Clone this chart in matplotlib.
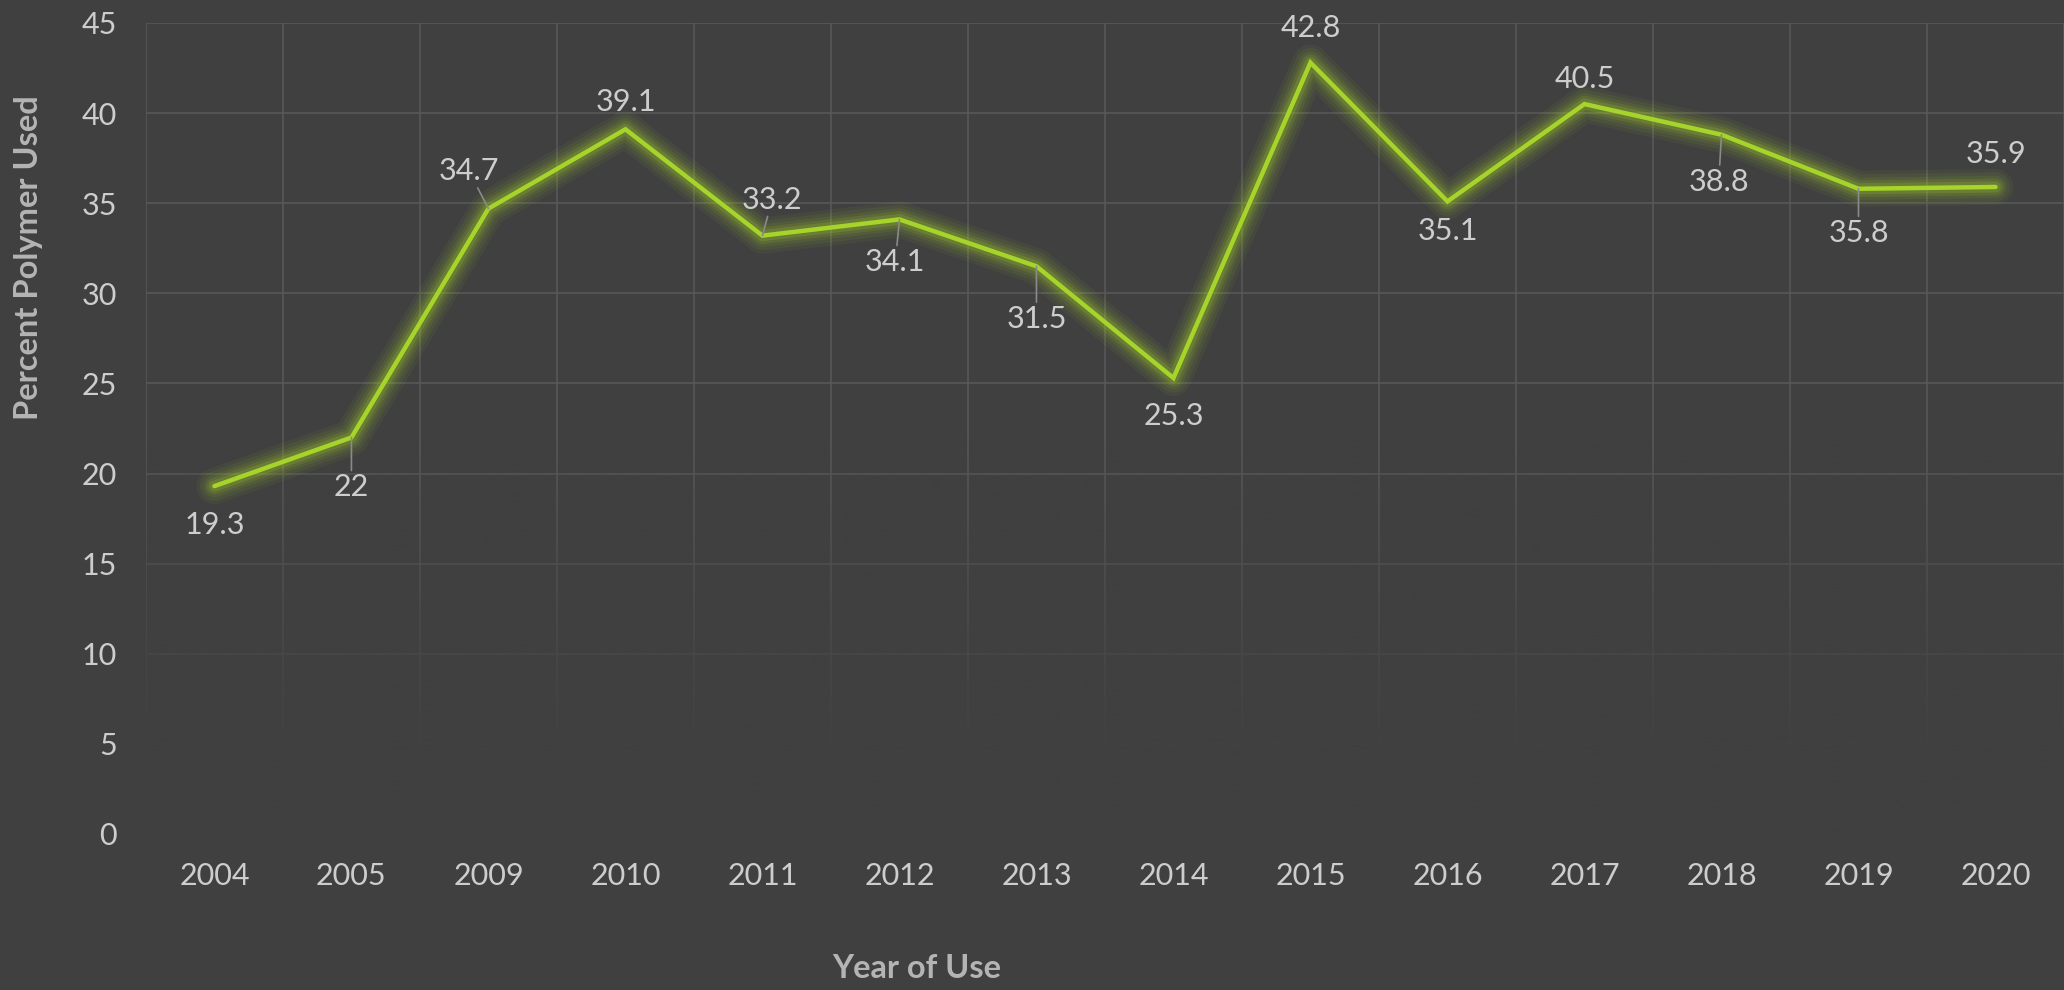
import numpy as np
import matplotlib
matplotlib.use("Agg")
from matplotlib import pyplot as plt
from matplotlib.colors import to_rgb

# data
years = ["2004", "2005", "2009", "2010", "2011", "2012", "2013",
         "2014", "2015", "2016", "2017", "2018", "2019", "2020"]
percent = [19.3, 22, 34.7, 39.1, 33.2, 34.1, 31.5,
           25.3, 42.8, 35.1, 40.5, 38.8, 35.8, 35.9]

# label placement (points from the marker) and whether a leader line is drawn
label_offsets = [(0, -28), (0, -36), (-14, 27), (0, 20), (7, 26), (-3, -31), (0, -38),
                 (0, -27), (0, 25), (0, -21), (0, 18), (-2, -34), (0, -32), (0, 24)]
leaders = [False, True, True, False, True, True, True,
           False, False, False, False, True, True, False]

bg = "#404040"
grid_col = "#595959"
line_col = "#a6d42a"
text_col = "#cdcdcd"
label_col = "#b4b4b4"

plt.rcParams["font.family"] = ["Lato", "DejaVu Sans"]

fig = plt.figure(figsize=(20.64, 9.9), dpi=100, facecolor=bg)
ax = fig.add_axes([0.0707, 0.1576, 0.9293, 0.8192], facecolor=bg)

x = np.arange(len(years))
ax.set_xlim(-0.5, len(years) - 0.5)
ax.set_ylim(0, 45)

ax.set_yticks(np.arange(0, 46, 5))
ax.set_xticks(x)
ax.set_xticklabels(years)
ax.set_xticks(np.arange(-0.5, len(years), 1), minor=True)
ax.grid(axis="y", which="major", color=grid_col, lw=1.1)
ax.grid(axis="x", which="minor", color=grid_col, lw=1.1)
ax.set_axisbelow(True)
ax.tick_params(which="both", length=0)
ax.tick_params(axis="x", pad=20, labelsize=22, labelcolor=text_col)
ax.tick_params(axis="y", pad=21, labelsize=22, labelcolor=text_col)
for s in ax.spines.values():
    s.set_visible(False)

# fade the grid out toward the bottom
rgb = to_rgb(bg)
ys = np.linspace(0, 45, 300)
alpha = np.clip((22 - ys) / (22 - 4), 0, 1)
fade = np.zeros((300, 1, 4))
fade[:, 0, :3] = rgb
fade[:, 0, 3] = alpha
ax.imshow(fade, extent=[-0.5, len(years) - 0.5, 0, 45], origin="lower",
          aspect="auto", zorder=1, interpolation="bilinear")

# glow, then line
for w, a in [(26, 0.06), (21, 0.07), (16, 0.09), (12, 0.12), (8, 0.18)]:
    ax.plot(x, percent, color=line_col, lw=w, alpha=a, solid_capstyle="round",
            solid_joinstyle="round", zorder=2)
ax.plot(x, percent, color=line_col, lw=3.2, solid_capstyle="round",
        solid_joinstyle="miter", zorder=3)

for xi, v, off, lead in zip(x, percent, label_offsets, leaders):
    label = f"{v:g}"
    kw = {}
    if lead:
        kw["arrowprops"] = dict(arrowstyle="-", color="#8a8a8a", lw=1.2,
                                shrinkA=1, shrinkB=0)
    ax.annotate(label, (xi, v), xytext=off, textcoords="offset points",
                ha="center", va="center", fontsize=22, color=text_col, zorder=4,
                bbox=dict(boxstyle="square,pad=0.05", fc="none", ec="none"), **kw)

fig.text(0.014, 0.74, "Percent Polymer Used", rotation=90, ha="center", va="center",
         fontsize=23.5, fontweight="bold", color=label_col)
fig.text(0.444, 0.022, "Year of Use", ha="center", va="center",
         fontsize=23.5, fontweight="bold", color=label_col)

fig.savefig("out.png", dpi=100, facecolor=bg)
